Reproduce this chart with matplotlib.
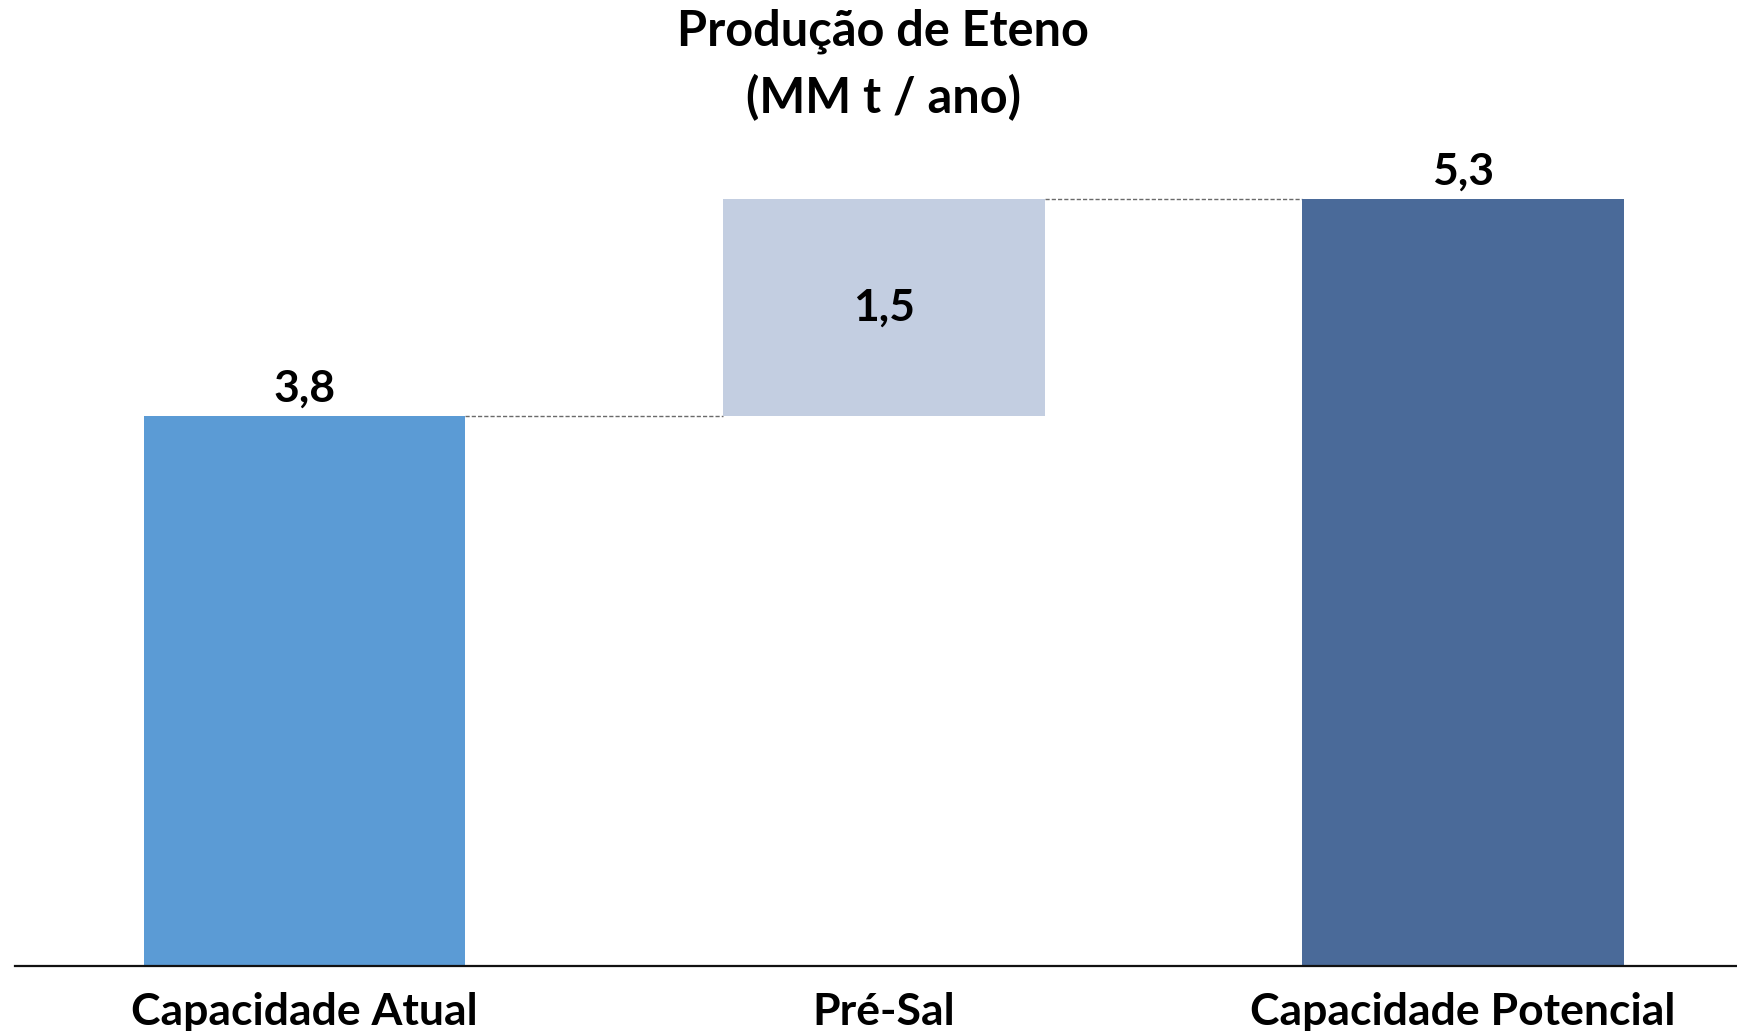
import matplotlib.pyplot as plt
import numpy as np

CATEGORIES = ["Capacidade Atual", "Pré-Sal", "Capacidade Potencial"]
VALUES = [3.8, 1.5, 5.3]
KINDS = ["total", "delta", "total"]
COLORS = ["#5B9BD5", "#C3CEE1", "#4A6A99"]
TITLE = "Produção de Eteno\n(MM t / ano)"

plt.rcParams['font.family'] = ['Lato', 'DejaVu Sans']

# waterfall bottoms
bottoms = []
running = 0.0
for v, k in zip(VALUES, KINDS):
    if k == "total":
        bottoms.append(0.0)
        running = v
    else:
        bottoms.append(running)
        running += v
tops = [b + v for b, v in zip(bottoms, VALUES)]

fig = plt.figure(figsize=(17.37, 10.31), dpi=100)
ax = fig.add_axes([15 / 1737, 1 - 966 / 1031, 1 - 15 / 1737, (966 - 140) / 1031])

x = np.arange(len(CATEGORIES))
width = 0.555
ax.bar(x, VALUES, bottom=bottoms, width=width, color=COLORS, zorder=2)

# connectors
for i in range(len(x) - 1):
    ax.plot([x[i] + width / 2, x[i + 1] - width / 2], [tops[i], tops[i]],
            ls=(0, (3, 1.5)), color="#6a6a6a", lw=1.0, zorder=1)

# value labels
for i, (v, k) in enumerate(zip(VALUES, KINDS)):
    lab = f"{v:.1f}".replace(".", ",")
    if k == "total":
        ax.text(x[i], tops[i] + 0.05, lab, ha="center", va="bottom",
                fontsize=32, fontweight="bold")
    else:
        ax.text(x[i], bottoms[i] + v / 2, lab, ha="center", va="center",
                fontsize=32, fontweight="bold")

ax.set_xlim(-0.5, 2.473)
ax.set_ylim(0, 5.71)
ax.set_xticks(x)
ax.set_xticklabels(CATEGORIES, fontsize=32, fontweight="bold")
ax.tick_params(axis="x", length=0, pad=19)
ax.set_yticks([])
for s in ["top", "right", "left"]:
    ax.spines[s].set_visible(False)
ax.spines["bottom"].set_linewidth(1.6)
ax.spines["bottom"].set_color("#111111")

fig.text(883 / 1737, 1 - 65 / 1031, TITLE, ha="center", va="center",
         fontsize=35, fontweight="bold", linespacing=1.5)

fig.savefig("out.png", dpi=100)
